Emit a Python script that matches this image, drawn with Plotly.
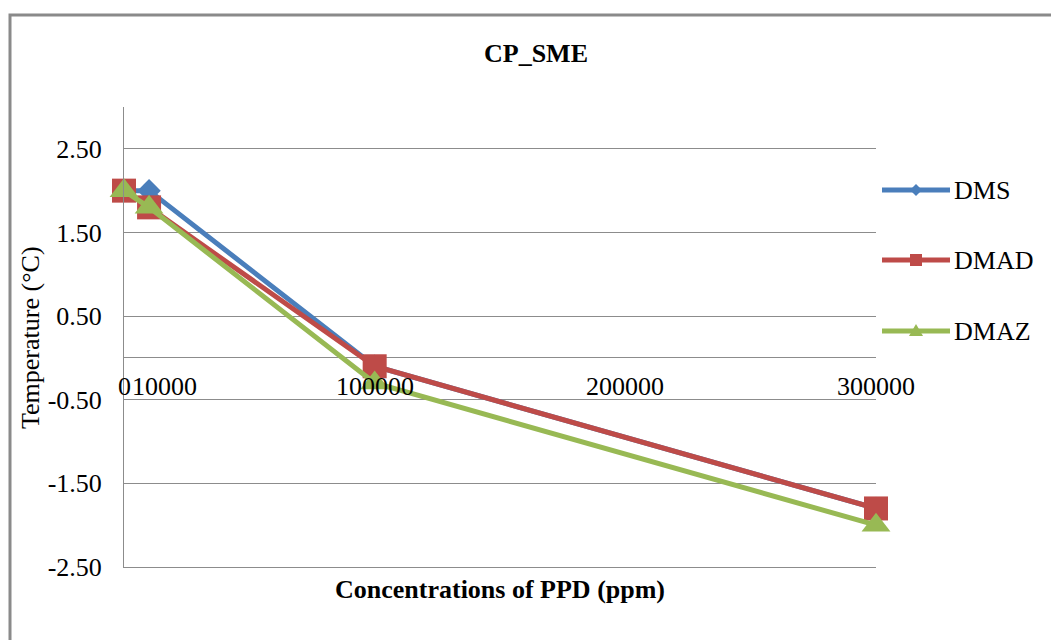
import plotly.graph_objects as go

# PPD concentration (ppm) and cloud-point shift (°C) per additive
concentrations = [0, 10000, 100000, 300000]
dms = [2.0, 2.0, -0.1, -1.8]
dmad = [2.0, 1.8, -0.1, -1.8]
dmaz = [2.0, 1.8, -0.3, -2.0]

series_names = ["DMS", "DMAD", "DMAZ"]

y_tick_vals = [-2.5, -1.5, -0.5, 0.5, 1.5, 2.5]
y_tick_text = ["-2.50", "-1.50", "-0.50", "0.50", "1.50", "2.50"]
x_tick_vals = [0, 100000, 200000, 300000]
x_tick_text = ["0", "100000", "200000", "300000"]

SERIF = "Liberation Serif, Times New Roman, serif"
GRID = "#8c8c8c"
FS = 26

# plot-area geometry in pixels, used to place the hand-built legend
L, R, T, B = 124, 876, 107, 567


def px_x(px):
    return (px - L) / (R - L)


def px_y(py):
    return (B - py) / (B - T)


styles = {
    "DMS": ("#4A7EBB", "diamond", 18),
    "DMAD": ("#BE4B48", "square", 24),
    "DMAZ": ("#98B954", "triangle-up", 25),
}
values = {"DMS": dms, "DMAD": dmad, "DMAZ": dmaz}

fig = go.Figure()
for name in series_names:
    color, symbol, size = styles[name]
    fig.add_trace(go.Scatter(
        x=concentrations, y=values[name], name=name,
        mode="lines+markers", showlegend=False, cliponaxis=False,
        line=dict(color=color, width=5),
        marker=dict(symbol=symbol, size=size, color=color),
    ))

annotations = []
# x tick labels sit just under the zero line
for v, t in zip(x_tick_vals, x_tick_text):
    annotations.append(dict(
        x=v, y=0, xref="x", yref="y", text=t, showarrow=False,
        xanchor="center", yanchor="top", yshift=-12,
        font=dict(family=SERIF, size=FS, color="#000"),
    ))
annotations.append(dict(
    x=0, y=0, xref="x", yref="y", text="10000", showarrow=False,
    xanchor="left", yanchor="top", xshift=6, yshift=-12,
    font=dict(family=SERIF, size=FS, color="#000"),
))
annotations.append(dict(
    x=0.5, y=px_y(589), xref="paper", yref="paper",
    text="<b>Concentrations of PPD (ppm)</b>", showarrow=False,
    xanchor="center", yanchor="middle",
    font=dict(family=SERIF, size=FS, color="#000"),
))
annotations.append(dict(
    x=px_x(30), y=px_y(338), xref="paper", yref="paper", text="Temperature (°C)",
    showarrow=False, textangle=-90, xanchor="center", yanchor="middle",
    font=dict(family=SERIF, size=FS, color="#000"),
))

shapes = [dict(type="rect", xref="paper", yref="paper",
               x0=px_x(10), x1=px_x(1065), y0=px_y(655), y1=px_y(15),
               line=dict(color="#8a8a8a", width=3), layer="below")]

# legend: long line with a small marker in the middle, label to the right
# (glyph paths are in pixels with y pointing up)
legend_rows = [190, 260, 331]
glyph = {
    "diamond": "M0,6 L6,0 L0,-6 L-6,0 Z",
    "square": "M-6,-6 L6,-6 L6,6 L-6,6 Z",
    "triangle-up": "M0,7 L7,-5 L-7,-5 Z",
}
for name, row in zip(series_names, legend_rows):
    color, symbol, _ = styles[name]
    shapes.append(dict(type="line", xref="paper", yref="paper",
                       x0=px_x(882), x1=px_x(950), y0=px_y(row), y1=px_y(row),
                       line=dict(color=color, width=5)))
    shapes.append(dict(type="path", xref="paper", yref="paper",
                       xsizemode="pixel", ysizemode="pixel",
                       xanchor=px_x(916), yanchor=px_y(row),
                       path=glyph[symbol],
                       fillcolor=color, line=dict(color=color, width=0)))
    annotations.append(dict(
        x=px_x(952), y=px_y(row), xref="paper", yref="paper", text=name,
        showarrow=False, xanchor="left", yanchor="middle",
        font=dict(family=SERIF, size=FS, color="#000"),
    ))

fig.update_layout(
    width=1051, height=640,
    margin=dict(l=L, r=1051 - R, t=T, b=640 - B),
    paper_bgcolor="white", plot_bgcolor="white",
    title=dict(text="<b>CP_SME</b>", x=536 / 1051, xref="container", xanchor="center",
               y=1 - 53 / 640, yref="container", yanchor="middle",
               font=dict(family=SERIF, size=FS, color="#000")),
    showlegend=False,
    xaxis=dict(range=[0, 300000], showgrid=False, zeroline=False,
               showticklabels=False, showline=True, linecolor=GRID, linewidth=1,
               fixedrange=True),
    yaxis=dict(range=[-2.5, 3.0], tickvals=y_tick_vals, ticktext=y_tick_text,
               showgrid=True, gridcolor=GRID, gridwidth=1,
               zeroline=True, zerolinecolor=GRID, zerolinewidth=1,
               showline=True, linecolor=GRID, linewidth=1,
               ticks="", ticklabelstandoff=16,
               tickfont=dict(family=SERIF, size=FS, color="#000")),
    annotations=annotations,
    shapes=shapes,
)

fig.write_html("out.html")
